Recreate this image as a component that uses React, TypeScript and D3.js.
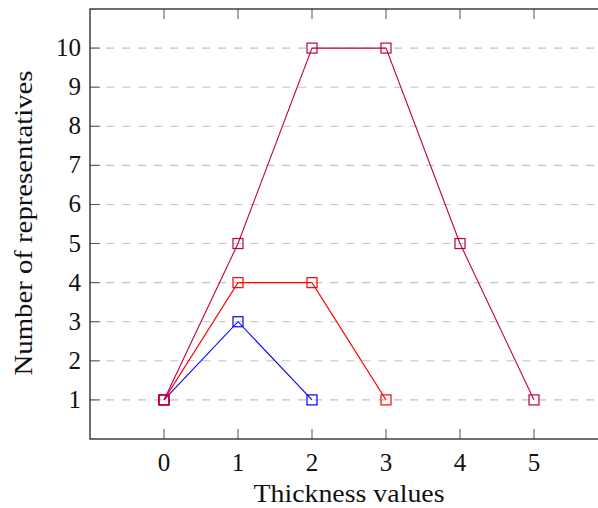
import React from "react";
import * as d3 from "d3";

const xTicks = [0, 1, 2, 3, 4, 5];
const yTicks = [1, 2, 3, 4, 5, 6, 7, 8, 9, 10];

const blueX = [0, 1, 2];
const blueY = [1, 3, 1];
const redX = [0, 1, 2, 3];
const redY = [1, 4, 4, 1];
const purpleX = [0, 1, 2, 3, 4, 5];
const purpleY = [1, 5, 10, 10, 5, 1];

const seriesList = [
  { name: "blue", xs: blueX, ys: blueY, color: "#0000ff" },
  { name: "red", xs: redX, ys: redY, color: "#ff0000" },
  { name: "purple", xs: purpleX, ys: purpleY, color: "#bf0040" },
];

const W = 598;
const H = 508;
const L = 90;
const R = 608;
const T = 9;
const B = 439;
const FONT = "'Liberation Serif', 'Times New Roman', serif";

export default function App() {
  const x = d3.scaleLinear().domain([-1, 6]).range([L, R]);
  const y = d3.scaleLinear().domain([0, 11]).range([B, T]);
  const line = d3
    .line<[number, number]>()
    .x((d) => x(d[0]))
    .y((d) => y(d[1]));
  const ms = 10;

  return (
    <svg
      width={W}
      height={H}
      style={{ position: "absolute", left: 0, top: 0, background: "#fff" }}
    >
      <rect x={0} y={0} width={W} height={H} fill="#fff" />
      {/* grid */}
      {yTicks.map((t) => (
        <line
          key={"g" + t}
          x1={L}
          x2={R}
          y1={y(t)}
          y2={y(t)}
          stroke="#c4c4c4"
          strokeWidth={1.1}
          strokeDasharray="8 8"
        />
      ))}
      {/* x ticks */}
      {xTicks.map((t) => (
        <g key={"xt" + t}>
          <line x1={x(t)} x2={x(t)} y1={B} y2={B - 10} stroke="#555" strokeWidth={1} />
          <line x1={x(t)} x2={x(t)} y1={T} y2={T + 10} stroke="#555" strokeWidth={1} />
          <text
            x={x(t)}
            y={471}
            textAnchor="middle"
            fontFamily={FONT}
            fontSize={25}
            fill="#111"
          >
            {t}
          </text>
        </g>
      ))}
      {/* y ticks */}
      {yTicks.map((t) => (
        <g key={"yt" + t}>
          <line x1={L} x2={L + 10} y1={y(t)} y2={y(t)} stroke="#555" strokeWidth={1} />
          <text
            x={81}
            y={y(t) + 8}
            textAnchor="end"
            fontFamily={FONT}
            fontSize={25}
            fill="#111"
          >
            {t}
          </text>
        </g>
      ))}
      {/* series */}
      {seriesList.map((s) => {
        const pts: [number, number][] = s.xs.map((v, i) => [v, s.ys[i]]);
        return (
          <g key={s.name}>
            <path d={line(pts) || ""} fill="none" stroke={s.color} strokeWidth={1.1} />
            {pts.map((p, i) => (
              <rect
                key={i}
                x={x(p[0]) - ms / 2}
                y={y(p[1]) - ms / 2}
                width={ms}
                height={ms}
                fill="none"
                stroke={s.color}
                strokeWidth={1.2}
              />
            ))}
          </g>
        );
      })}
      {/* axis box */}
      <rect
        x={L}
        y={T}
        width={R - L}
        height={B - T}
        fill="none"
        stroke="#222"
        strokeWidth={1.3}
      />
      {/* axis labels */}
      <text
        x={(L + R) / 2}
        y={502}
        textAnchor="middle"
        fontFamily={FONT}
        fontSize={25}
        fill="#111"
        textLength={191}
        lengthAdjust="spacingAndGlyphs"
      >
        Thickness values
      </text>
      <text
        transform={`translate(32, ${(T + B) / 2 - 1}) rotate(-90)`}
        x={0}
        y={0}
        textAnchor="middle"
        fontFamily={FONT}
        fontSize={25}
        fill="#111"
        textLength={305}
        lengthAdjust="spacingAndGlyphs"
      >
        Number of representatives
      </text>
    </svg>
  );
}
